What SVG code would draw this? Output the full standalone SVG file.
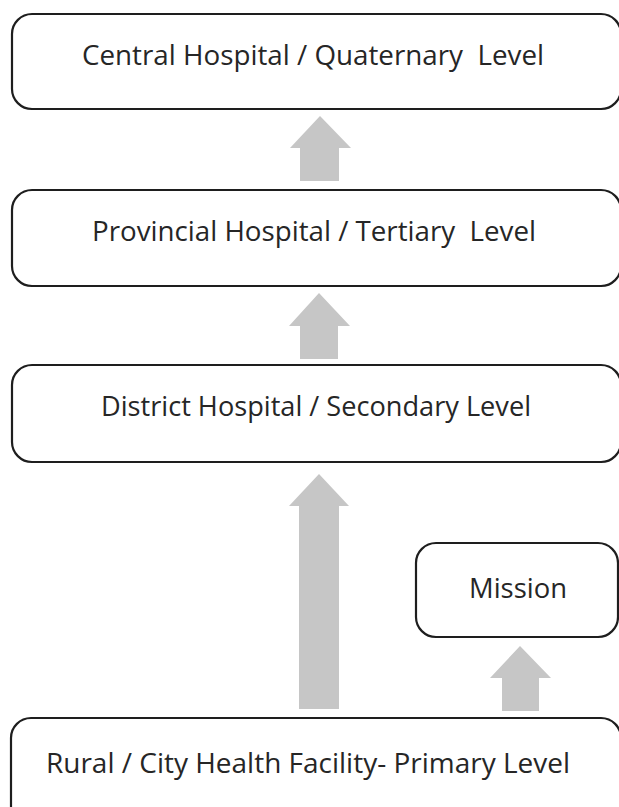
<svg xmlns="http://www.w3.org/2000/svg" width="619" height="807" viewBox="0 0 619 807">
  <style>
    .box { fill: #ffffff; stroke: #1e1e1e; stroke-width: 2.2; }
    .lbl { font-family: "Open Sans", "Noto Sans", "Liberation Sans", sans-serif; font-size: 27px; fill: #262626; white-space: pre; }
    .arrow { fill: #c6c6c6; stroke: none; }
  </style>
  <rect width="619" height="807" fill="#ffffff"/>

  <!-- level boxes, top to bottom -->
  <g id="central">
    <rect class="box" x="12" y="14" width="609" height="95" rx="20"/>
    <text class="lbl" x="82" y="65" textLength="462" lengthAdjust="spacingAndGlyphs" xml:space="preserve">Central Hospital / Quaternary  Level</text>
  </g>
  <g id="provincial">
    <rect class="box" x="12" y="190" width="609" height="96" rx="20"/>
    <text class="lbl" x="92" y="241" textLength="444" lengthAdjust="spacingAndGlyphs" xml:space="preserve">Provincial Hospital / Tertiary  Level</text>
  </g>
  <g id="district">
    <rect class="box" x="12" y="365" width="609" height="97" rx="20"/>
    <text class="lbl" x="101" y="416" textLength="430" lengthAdjust="spacingAndGlyphs">District Hospital / Secondary Level</text>
  </g>
  <g id="mission">
    <rect class="box" x="416" y="543" width="202" height="94" rx="20"/>
    <text class="lbl" x="469" y="598" textLength="98" lengthAdjust="spacingAndGlyphs">Mission</text>
  </g>
  <g id="primary">
    <rect class="box" x="11" y="718" width="610" height="120" rx="20"/>
    <text class="lbl" x="46" y="773" textLength="524" lengthAdjust="spacingAndGlyphs">Rural / City Health Facility- Primary Level</text>
  </g>

  <!-- block arrows pointing upward -->
  <g id="connectors">
    <polygon class="arrow" points="320,116 351,148 339,148 339,181 300,181 300,148 290,148"/>
    <polygon class="arrow" points="319,293 350,326 338,326 338,359 300,359 300,326 289,326"/>
    <polygon class="arrow" points="319,474 349,506 339,506 339,709 299,709 299,506 289,506"/>
    <polygon class="arrow" points="520,646 551,678 539,678 539,711 502,711 502,678 490,678"/>
  </g>
</svg>
